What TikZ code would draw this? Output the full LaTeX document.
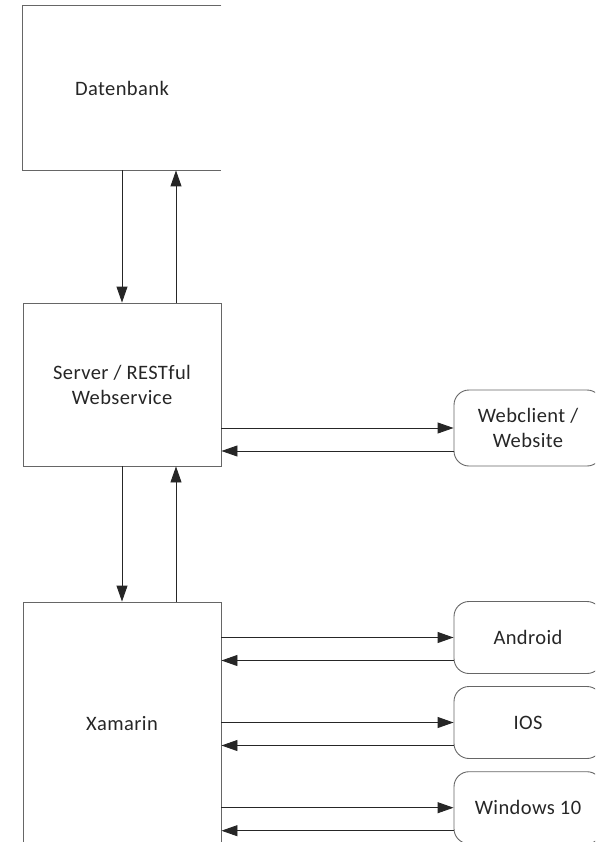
\documentclass[tikz,border=0pt]{standalone}
\usepackage{fontspec}
\setmainfont[LetterSpace=2]{Carlito}
\usetikzlibrary{arrows.meta}
\begin{document}
\begin{tikzpicture}[x=1pt,y=-1pt,
  box/.style={rectangle,draw=black!60,line width=0.9pt,inner sep=0pt,align=center,font=\fontsize{20.5}{25}\selectfont,text=black!85},
  rbox/.style={box,rounded corners=15pt},
  arr/.style={draw=black!85,line width=0.9pt,-{Triangle[length=16pt,width=11pt]}}]
\useasboundingbox (0,0) rectangle (595,842);
\clip (0,0) rectangle (595,842);
% Datenbank (right edge not shown)
\node[box,draw=none,minimum width=198pt,minimum height=164pt] (db) at (122,88) {Datenbank};
\draw[black!60,line width=0.9pt] (db.north east) -- (db.north west) -- (db.south west) -- (db.south east);
\node[box,minimum width=198pt,minimum height=163pt] (srv) at (122,384.5) {Server / RESTful\\Webservice};
\node[box,minimum width=198pt,minimum height=244pt] (xam) at (122,724) {Xamarin};
\node[rbox,minimum width=148pt,minimum height=76pt] (web) at (528,428) {Webclient /\\Website};
\node[rbox,minimum width=148pt,minimum height=72pt] (and) at (528,637.5) {Android};
\node[rbox,minimum width=148pt,minimum height=72pt] (ios) at (528,722.5) {IOS};
\node[rbox,minimum width=148pt,minimum height=72pt] (win) at (528,807.7) {Windows 10};
% vertical connectors
\draw[arr] (db.south) -- (srv.north);
\draw[arr] ([xshift=54pt]srv.north) -- ([xshift=54pt]db.south);
\draw[arr] (srv.south) -- (xam.north);
\draw[arr] ([xshift=54pt]xam.north) -- ([xshift=54pt]srv.south);
% horizontal connectors
\foreach \t/\s in {web/srv,and/xam,ios/xam,win/xam}{
  \draw[arr] (\s.east |- \t.west) -- (\t.west);
  \draw[arr] ([yshift=-23pt]\t.west) -- ([yshift=-23pt]\t.west -| \s.east);
}
\end{tikzpicture}
\end{document}
